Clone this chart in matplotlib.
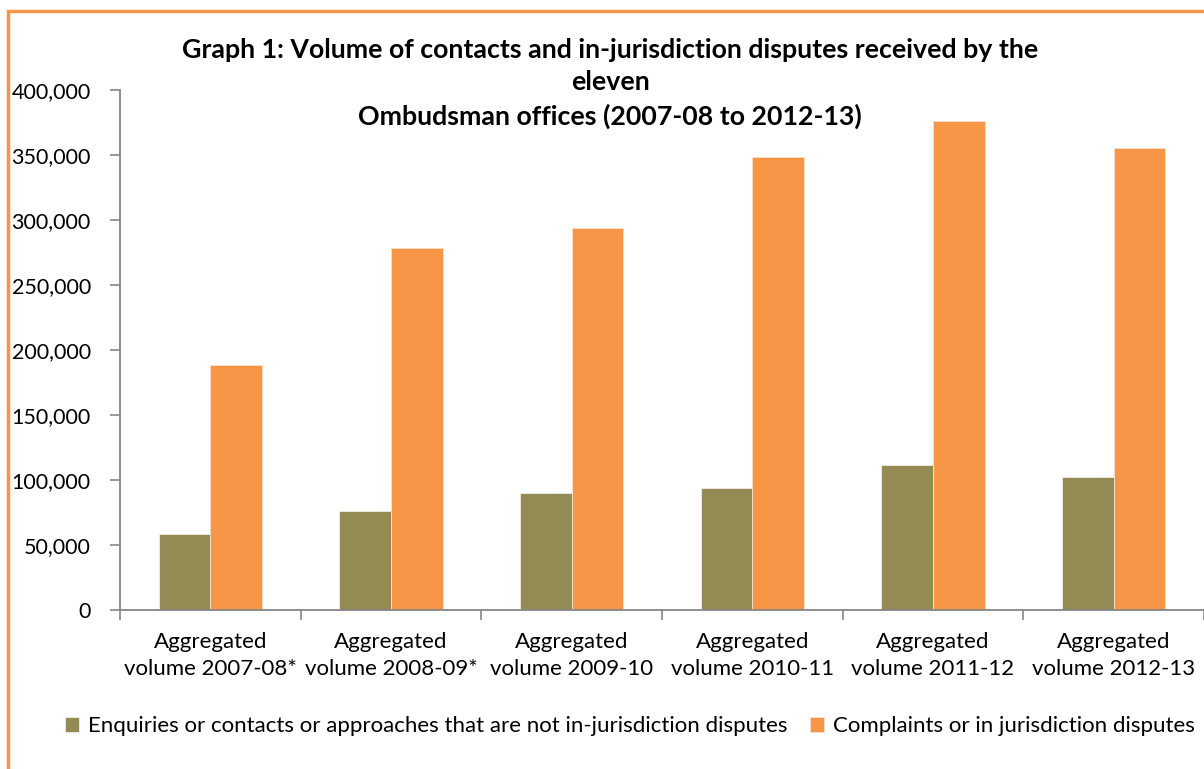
import matplotlib
matplotlib.use("Agg")
import matplotlib.pyplot as plt
import numpy as np
from matplotlib.patches import Rectangle

plt.rcParams['font.family'] = ['Lato', 'DejaVu Sans']

categories = ["Aggregated\nvolume 2007-08*", "Aggregated\nvolume 2008-09*", "Aggregated\nvolume 2009-10",
              "Aggregated\nvolume 2010-11", "Aggregated\nvolume 2011-12", "Aggregated\nvolume 2012-13"]
enquiries = [58200, 76200, 89700, 94100, 111300, 102100]
complaints = [188500, 278200, 293600, 348200, 376200, 355600]
series_names = ["Enquiries or contacts or approaches that are not in-jurisdiction disputes",
                "Complaints or in jurisdiction disputes"]
title = ("Graph 1: Volume of contacts and in-jurisdiction disputes received by the\n"
         "eleven\nOmbudsman offices (2007-08 to 2012-13)")

OLIVE = "#948A54"
ORANGE = "#F79646"
GRAY = "#868686"

W, H = 1204, 769
fig = plt.figure(figsize=(W/100, H/100), dpi=100)

# orange border
fig.add_artist(Rectangle((8/W, -0.1), 1.2, (1 - 11/H) + 0.1, transform=fig.transFigure,
                         fill=False, edgecolor=ORANGE, linewidth=2.5))

ax = fig.add_axes([120/W, (H-610)/H, 1084/W, 520/H])
x = np.arange(len(categories))
bw = 1/3.5
ax.bar(x - bw/2, enquiries, bw, color=OLIVE, edgecolor="#F2EEE2", linewidth=0.6, label=series_names[0])
ax.bar(x + bw/2, complaints, bw, color=ORANGE, edgecolor="#FBE0CC", linewidth=0.6, label=series_names[1])

ax.set_xlim(-0.5, len(categories) - 0.5)
ax.set_ylim(0, 400000)
ax.set_yticks(np.arange(0, 400001, 50000))
ax.set_yticklabels([f"{v:,}" for v in range(0, 400001, 50000)], fontsize=15.5)
ax.set_xticks(x)
ax.set_xticklabels(categories, fontsize=16, linespacing=1.45)
ax.set_xticks(np.arange(-0.5, len(categories)), minor=True)
ax.tick_params(axis='x', which='major', length=0, pad=16)
ax.tick_params(axis='x', which='minor', length=7, color=GRAY, width=1.2)
ax.tick_params(axis='y', length=7, color=GRAY, width=1.2, pad=14)
for s in ['top', 'right']:
    ax.spines[s].set_visible(False)
for s in ['left', 'bottom']:
    ax.spines[s].set_color(GRAY)
    ax.spines[s].set_linewidth(1.3)

fig.text(610/W, 1 - 38/H, title, ha='center', va='top', fontsize=19.3, fontweight='bold',
         linespacing=1.42)

fig.legend(loc='center', bbox_to_anchor=(630/W, 1 - 726/H), ncol=2, frameon=False,
           fontsize=16, handlelength=0.65, handleheight=0.65, handletextpad=0.4, columnspacing=1.0)

fig.savefig("out.png", dpi=100)
